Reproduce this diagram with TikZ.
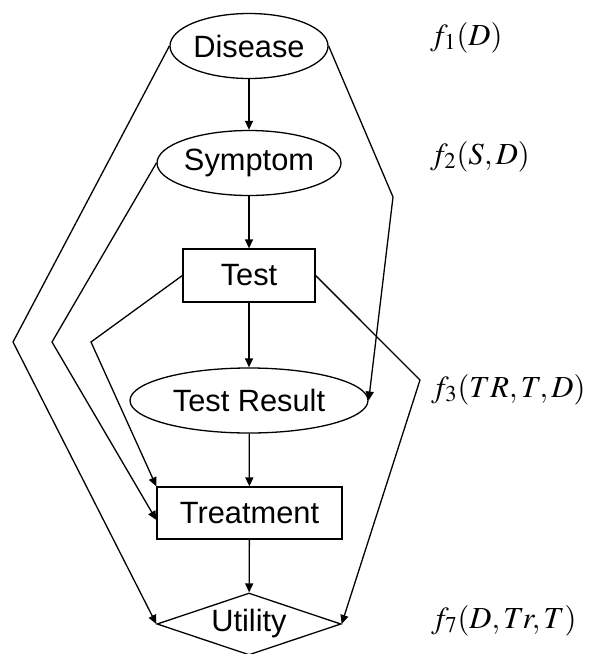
\documentclass[tikz,border=0pt]{standalone}
\usepackage{mathptmx}
\usepackage[no-math]{fontspec}
\newfontfamily\helv{Liberation Sans}
\usetikzlibrary{shapes.geometric,arrows.meta}
\begin{document}
\begin{tikzpicture}[x=0.5pt,y=-0.5pt,>={Triangle[length=4.5pt,width=4pt]}]
        \tikzstyle{chance}=[ellipse,draw,line width=0.65pt,inner sep=0pt,minimum height=32.5pt,font=\helv\fontsize{15.4}{18}\selectfont]
        \tikzstyle{decision}=[rectangle,draw,line width=0.65pt,inner sep=0pt,font=\helv\fontsize{15.4}{18}\selectfont]
        \tikzstyle{utilnode}=[diamond,aspect=3,draw,line width=0.65pt,inner sep=0pt,minimum width=92pt,minimum height=31pt,font=\helv\fontsize{15.4}{18}\selectfont]
        \tikzstyle{edge}=[draw,line width=0.65pt,->]
        \tikzstyle{factor}=[anchor=base west,inner sep=0pt,font=\fontsize{15.3}{19}\selectfont]
        \useasboundingbox (0,0) rectangle (592,654);
       \begin{scope}
         \node [chance,minimum width=79pt] (disease) at (249,46) {Disease};
         \node [chance,minimum width=79pt] (symptom) at (249,163) {Symptom};
         \node [decision,minimum width=66pt,minimum height=26.5pt] (test) at (249,275.5) {Test};
         \node [chance,minimum width=119pt] (result) at (249,400.5) {Test Result};
         \node [decision,minimum width=92.5pt,minimum height=26pt] (treatment) at (249.5,513) {Treatment};
         \node [utilnode] (utility) at (249,624) {\raisebox{-3pt}{Utility}};

         % bend points
         \coordinate (dl) at (13,342);
         \coordinate (dr) at (393,197);
         \coordinate (sl) at (52,342);
         \coordinate (tl) at (91,342);
         \coordinate (tr) at (420,380);

         \path[edge] (disease) -- (symptom);
         \path[edge] (symptom) -- (test);
         \path[edge] (test) -- (result);
         \path[edge] (result) -- (treatment);
         \path[edge] (treatment) -- (utility);
         \path[edge] (disease.west) -- (dl) -- (utility.west);
         \path[edge] (disease.east) -- (dr) -- (result.east);
         \path[edge] (symptom.west) -- (sl) -- ([yshift=-3.5pt]treatment.west);
         \path[edge] (test.west) -- (tl) -- (treatment.north west);
         \path[edge] (test.east) -- (tr) -- (utility.east);

         \node [factor] (f1) at (430,45) {$f_1(D)$};
         \node [factor] (f2) at (430,164) {$f_2(S,D)$};
         \node [factor] (f3) at (431,397) {$f_3(TR,T,D)$};
         \node [factor] (f7) at (431,628) {$f_7(D,Tr,T)$};
        \end{scope}
      \end{tikzpicture}
\end{document}
